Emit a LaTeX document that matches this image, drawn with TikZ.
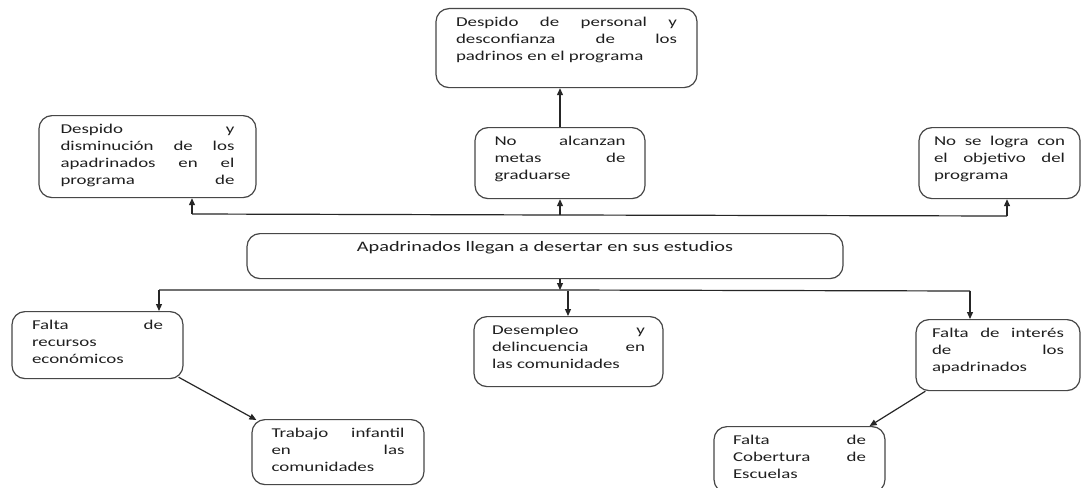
\documentclass[tikz,border=0pt]{standalone}
\usepackage{fontspec}
\setmainfont{Carlito}[FakeStretch=1.4]
\usetikzlibrary{arrows.meta,calc}
\begin{document}
\begin{tikzpicture}[x=1pt,y=-1pt,
  box/.style={draw=black!72, line width=1.2pt, rounded corners=13pt, inner sep=0pt,
    anchor=north, text=black!88, font=\fontsize{13.5}{17}\selectfont},
  arr/.style={draw=black!85, line width=1.2pt, -{Triangle[length=7pt,width=6pt]}},
  bus/.style={draw=black!85, line width=1.2pt}]
\useasboundingbox (0,0) rectangle (1083,487);
\fill[white] (0,0) rectangle (1083,487);
\clip (0,0) rectangle (1083,487);

% effects (top row)
\node[box, minimum width=261pt, text height=18pt, text depth=61pt] (T) at (566.5,8)
  {\parbox[t]{221pt}{Despido\hfill de\hfill personal\hfill y\\desconfianza\hfill de\hfill los\\padrinos en el programa}};
\node[box, minimum width=217pt, text height=18pt, text depth=64pt] (L) at (147.5,115)
  {\parbox[t]{174pt}{Despido\hfill y\\disminución\hfill de\hfill los\\apadrinados\hfill en\hfill el\\programa\hfill de}};
\node[box, minimum width=170pt, text height=18pt, text depth=53pt] (M) at (560,127)
  {\parbox[t]{131pt}{No\hfill alcanzan\\metas\hfill de\\graduarse}};
\node[box, minimum width=161pt, text height=18pt, text depth=53pt] (R) at (999.5,127)
  {\parbox[t]{131pt}{No\hfill se\hfill logra\hfill con\\el\hfill objetivo\hfill del\\programa}};

% central problem
\node[box, minimum width=596pt, text height=18pt, text depth=27pt,
  font=\fontsize{14.5}{17}\selectfont] (C) at (545,233)
  {Apadrinados llegan a desertar en sus estudios};

% causes
\node[box, minimum width=171pt, text height=18pt, text depth=49pt] (FL) at (97.5,311)
  {\parbox[t]{131pt}{Falta\hfill de\\recursos\\económicos}};
\node[box, minimum width=189pt, text height=18pt, text depth=52pt] (D) at (568.5,316)
  {\parbox[t]{153pt}{Desempleo\hfill y\\delincuencia\hfill en\\las comunidades}};
\node[box, minimum width=164pt, text height=18pt, text depth=53pt] (FI) at (998,319)
  {\parbox[t]{132pt}{Falta\hfill de\hfill interés\\de\hfill los\\apadrinados}};
\node[box, minimum width=172pt, text height=18pt, text depth=47pt] (TR) at (338,419)
  {\parbox[t]{133pt}{Trabajo\hfill infantil\\en\hfill las\\comunidades}};
\node[box, minimum width=171pt, text height=18pt, text depth=48pt] (FC) at (799.5,426)
  {\parbox[t]{133pt}{Falta\hfill de\\Cobertura\hfill de\\Escuelas}};

% upper bus
\coordinate (bt1) at (192,214);
\coordinate (bt2) at (560,215);
\coordinate (bt3) at (1007,216);
\draw[bus] (bt1) -- (bt2) -- (bt3);
\draw[arr] (bt1) -- (bt1 |- L.south);
\draw[arr] (bt2) -- (M.south);
\draw[arr] (bt3) -- (bt3 |- R.south);
\draw[arr] (M.north) -- (M.north |- T.south);

% lower bus
\coordinate (bb0) at (560,290);
\coordinate (bb1) at (159,290);
\coordinate (bb2) at (568,291);
\coordinate (bb3) at (970,291);
\draw[bus] (bb1) -- (bb0) -- (bb3);
\draw[arr] (bb0 |- C.south) -- (bb0);
\draw[arr] (bb1) -- (bb1 |- FL.north);
\draw[arr] (bb2) -- (bb2 |- D.north);
\draw[arr] (bb3) -- (bb3 |- FI.north);

% diagonal links
\draw[arr] ($(FL.south east)+(-5,-2)$) -- ($(TR.north west)+(5,1)$);
\draw[arr] ($(FI.south west)+(10,0)$) -- ($(FC.north east)+(-16,0)$);
\end{tikzpicture}
\end{document}
